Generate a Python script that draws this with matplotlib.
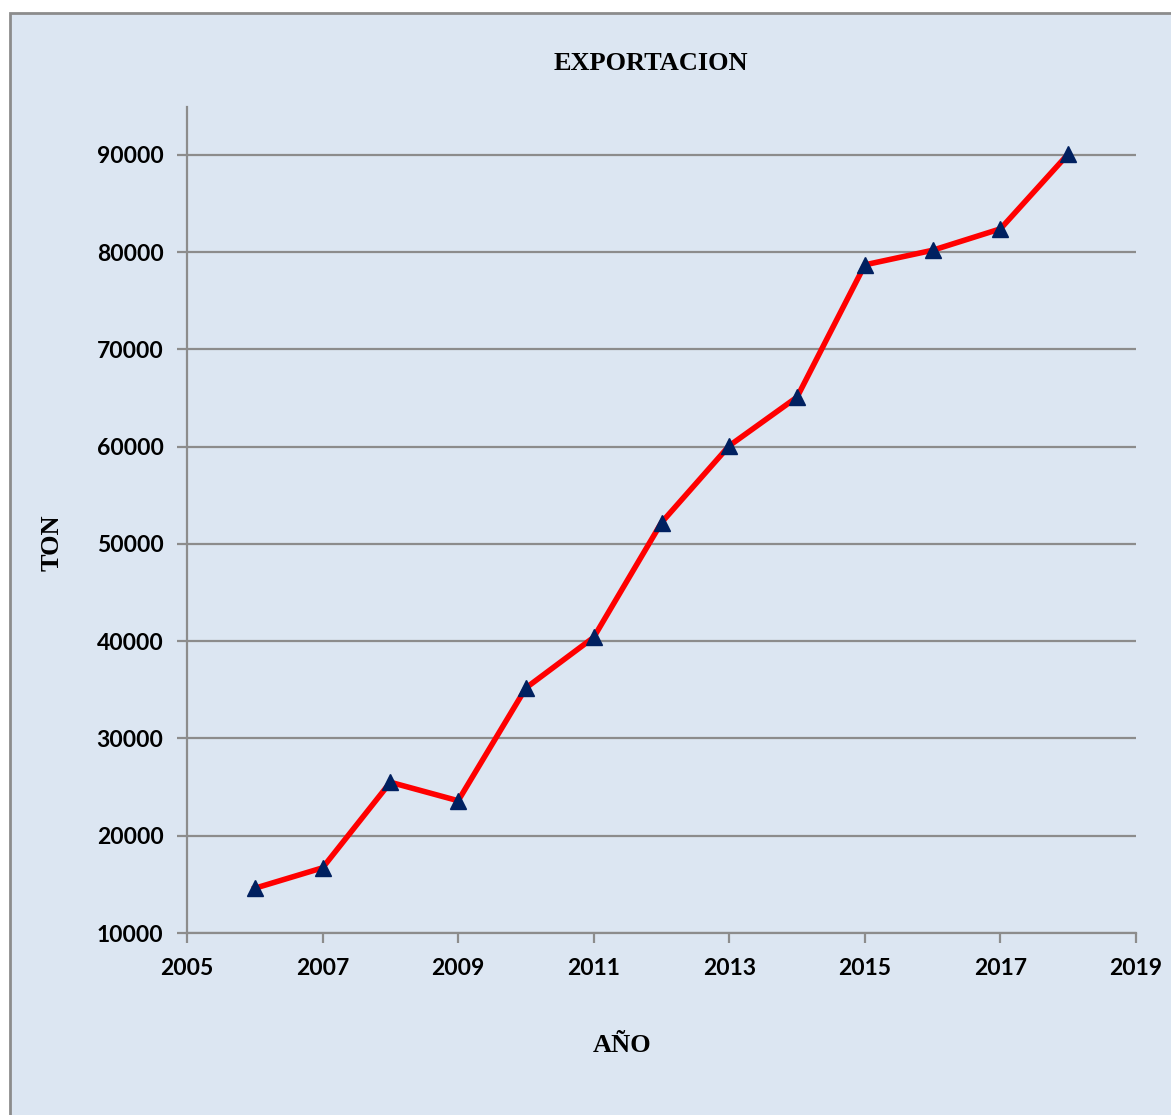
import matplotlib
matplotlib.use("Agg")
import matplotlib.pyplot as plt
from matplotlib.patches import Rectangle

# data
years = [2006, 2007, 2008, 2009, 2010, 2011, 2012, 2013, 2014, 2015, 2016, 2017, 2018]
ton = [14600, 16700, 25500, 23600, 35200, 40400, 52200, 60100, 65100, 78700, 80200, 82400, 90100]
xticks = [2005, 2007, 2009, 2011, 2013, 2015, 2017, 2019]
yticks = [10000, 20000, 30000, 40000, 50000, 60000, 70000, 80000, 90000]

bg = "#DCE6F2"
grey = "#8C8C8C"

fig = plt.figure(figsize=(11.71, 11.15), dpi=100)
fig.patch.set_facecolor("white")

# chart area with grey border (runs off the right/bottom edge like the original)
fig.patches.append(Rectangle((10 / 1171, -0.01), 1.2, 1 - 13 / 1115 + 0.01,
                             transform=fig.transFigure, facecolor=bg,
                             edgecolor=grey, linewidth=2, zorder=-5))

ax = fig.add_axes([187 / 1171, 1 - 933 / 1115, (1136 - 187) / 1171, (933 - 107) / 1115])
ax.set_zorder(1)
ax.patch.set_alpha(0)

ax.plot(years, ton, color="red", linewidth=4, zorder=3)
ax.plot(years, ton, linestyle="none", marker="^", markersize=11,
        color="#002060", zorder=4)

ax.set_xlim(2005, 2019)
ax.set_ylim(10000, 94930)
ax.set_xticks(xticks)
ax.set_yticks(yticks)
ax.yaxis.grid(True, color=grey, linewidth=1.6)
ax.set_axisbelow(True)

for s in ["top", "right"]:
    ax.spines[s].set_visible(False)
for s in ["left", "bottom"]:
    ax.spines[s].set_color(grey)
    ax.spines[s].set_linewidth(1.6)

ax.tick_params(axis="both", direction="out", length=7, width=1.6, color=grey)
ax.tick_params(axis="x", pad=11)
ax.tick_params(axis="y", pad=10)
for lab in ax.get_xticklabels() + ax.get_yticklabels():
    lab.set_fontfamily("Lato")
    lab.set_fontweight("bold")
    lab.set_fontsize(16.5)

fig.text(651 / 1171, 1 - 63 / 1115, "EXPORTACION", ha="center", va="center",
         fontfamily="Liberation Serif", fontweight="bold", fontsize=19)
fig.text(622 / 1171, 1 - 1045 / 1115, "AÑO", ha="center", va="center",
         fontfamily="Liberation Serif", fontweight="bold", fontsize=19)
fig.text(52 / 1171, 1 - 543 / 1115, "TON", ha="center", va="center", rotation=90,
         fontfamily="Liberation Serif", fontweight="bold", fontsize=19)

fig.savefig("out.png", dpi=100, facecolor=fig.get_facecolor())
